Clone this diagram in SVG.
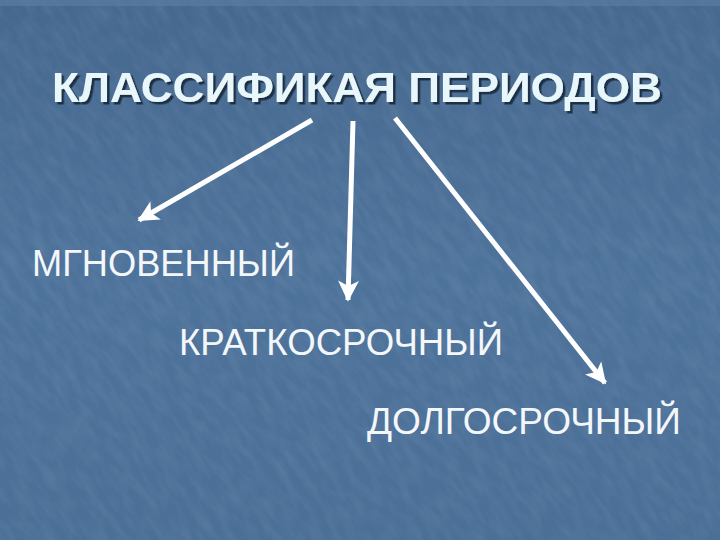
<svg xmlns="http://www.w3.org/2000/svg" width="720" height="540" viewBox="0 0 720 540">
  <defs>
    <linearGradient id="bg" x1="0" y1="0" x2="0" y2="1">
      <stop offset="0" stop-color="#46688f"/>
      <stop offset="0.5" stop-color="#4e739b"/>
      <stop offset="1" stop-color="#4b6f97"/>
    </linearGradient>
    <filter id="tex" x="0" y="0" width="100%" height="100%">
      <feTurbulence type="fractalNoise" baseFrequency="0.12 0.04" numOctaves="3" seed="4" result="n"/>
      <feColorMatrix in="n" type="matrix" values="0 0 0 0 1  0 0 0 0 1  0 0 0 0 1  0 0 0 0.35 -0.12"/>
    </filter>
    <filter id="shadow" x="-5%" y="-20%" width="110%" height="150%">
      <feDropShadow dx="2.5" dy="2.5" stdDeviation="0.6" flood-color="#14263a" flood-opacity="0.9"/>
    </filter>
    <marker id="ah" viewBox="0 0 12 12" refX="11" refY="6" markerWidth="4.2" markerHeight="4.2" orient="auto" markerUnits="strokeWidth">
      <path d="M0,0 L12,6 L0,12 L3,6 Z" fill="#ffffff"/>
    </marker>
    <style>
      .title { font-family: "Liberation Sans", "DejaVu Sans", sans-serif; font-weight: bold; font-size: 42px; fill: #e8f7fb; }
      .lbl { font-family: "Liberation Sans", "DejaVu Sans", sans-serif; font-size: 37px; fill: #f4f7fa; }
      .conn { stroke: #ffffff; stroke-width: 5; fill: none; marker-end: url(#ah); }
    </style>
  </defs>
  <rect width="720" height="540" fill="url(#bg)"/>
  <g transform="rotate(-35 360 270)">
    <rect x="-200" y="-200" width="1120" height="940" filter="url(#tex)" opacity="0.35"/>
  </g>
  <rect x="0" y="0" width="720" height="6" fill="#5b7ea5" opacity="0.6"/>

  <g id="title" filter="url(#shadow)">
    <text class="title" x="52" y="102" textLength="610" lengthAdjust="spacingAndGlyphs">КЛАССИФИКАЯ ПЕРИОДОВ</text>
  </g>

  <g id="connectors">
    <line class="conn" x1="312" y1="120" x2="139" y2="220"/>
    <line class="conn" x1="353" y1="121" x2="348" y2="300"/>
    <line class="conn" x1="395" y1="118" x2="605" y2="383"/>
  </g>

  <g id="node-instant">
    <text class="lbl" x="32" y="276" textLength="263" lengthAdjust="spacingAndGlyphs">МГНОВЕННЫЙ</text>
  </g>
  <g id="node-short">
    <text class="lbl" x="179" y="355" textLength="324" lengthAdjust="spacingAndGlyphs">КРАТКОСРОЧНЫЙ</text>
  </g>
  <g id="node-long">
    <text class="lbl" x="367" y="434" textLength="314" lengthAdjust="spacingAndGlyphs">ДОЛГОСРОЧНЫЙ</text>
  </g>
</svg>
